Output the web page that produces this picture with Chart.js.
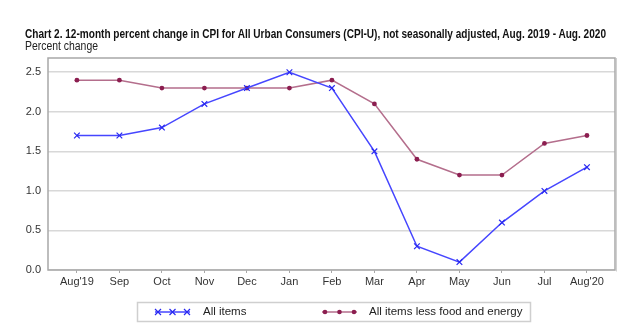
<!DOCTYPE html>
<html><head><meta charset="utf-8">
<script src="https://cdn.jsdelivr.net/npm/chart.js@4"></script>
<style>
html,body{margin:0;padding:0;background:#fff;}
#wrap{position:relative;width:643px;height:331px;overflow:hidden;}
#c{position:absolute;left:0;top:0;}
.t{position:absolute;white-space:nowrap;color:#111;font-family:"Liberation Sans Narrow","Liberation Sans",Arial,sans-serif;transform-origin:0 0;}
#title{left:25px;top:27px;font-size:12px;font-weight:bold;}
#sub{left:25px;top:39px;font-size:12px;color:#222;}
</style></head>
<body><div id="wrap">
<canvas id="c" width="643" height="331"></canvas>
<div class="t" id="title">Chart 2. 12-month percent change in CPI for All Urban Consumers (CPI-U), not seasonally adjusted, Aug. 2019 - Aug. 2020</div>
<div class="t" id="sub">Percent change</div>
</div>
<script>
const categories = ["Aug'19","Sep","Oct","Nov","Dec","Jan","Feb","Mar","Apr","May","Jun","Jul","Aug'20"];
const allItems = [1.7,1.7,1.8,2.1,2.3,2.5,2.3,1.5,0.3,0.1,0.6,1.0,1.3];
const coreItems = [2.4,2.4,2.3,2.3,2.3,2.3,2.4,2.1,1.4,1.2,1.2,1.6,1.7];
const yTicks = [0.0,0.5,1.0,1.5,2.0,2.5];
const seriesNames = ["All items","All items less food and energy"];

(function(){
  const t=document.getElementById('title');
  const w=t.getBoundingClientRect().width;
  if(w>0) t.style.transform='scaleX('+(581/w)+')';
  const s=document.getElementById('sub');
  const ws=s.getBoundingClientRect().width;
  if(ws>0) s.style.transform='scaleX('+(73/ws)+')';
})();

const blueLine='rgb(70,70,255)', blueMark='rgb(40,40,240)';
const coreLine='rgb(180,110,140)', coreMark='rgb(140,30,80)';

const frame = {
  id:'frame',
  beforeDatasetsDraw(chart){
    const a=chart.chartArea, ctx=chart.ctx;
    ctx.save();
    ctx.strokeStyle='#a8a8a8'; ctx.lineWidth=1.5;
    ctx.strokeRect(a.left,a.top,a.right-a.left,a.bottom-a.top);
    ctx.strokeStyle='#d0d0d0'; ctx.lineWidth=1;
    ctx.beginPath(); ctx.moveTo(a.right+1.5,a.top); ctx.lineTo(a.right+1.5,a.bottom+1.5); ctx.stroke();
    ctx.restore();
  },
  afterDraw(chart){
    const ctx=chart.ctx;
    ctx.save();
    ctx.strokeStyle='#cfcfcf'; ctx.lineWidth=1.5;
    ctx.strokeRect(137.5,302.5,393,19);
    ctx.font='11.5px "Liberation Sans Narrow","Liberation Sans",Arial,sans-serif';
    ctx.textBaseline='middle';
    const y=312;
    const items=[
      {x0:155,x1:190,tx:203,line:blueLine,mark:blueMark,style:'cross',label:seriesNames[0]},
      {x0:322,x1:357,tx:369,line:coreLine,mark:coreMark,style:'dot',label:seriesNames[1]}
    ];
    items.forEach(it=>{
      ctx.strokeStyle=it.line; ctx.lineWidth=1.5;
      ctx.beginPath(); ctx.moveTo(it.x0,y); ctx.lineTo(it.x1,y); ctx.stroke();
      for(let i=0;i<3;i++){
        const px=it.x0+3+i*14.5;
        if(it.style==='cross'){
          ctx.strokeStyle=it.mark; ctx.lineWidth=1.2;
          ctx.beginPath(); ctx.moveTo(px-3,y-3); ctx.lineTo(px+3,y+3); ctx.moveTo(px+3,y-3); ctx.lineTo(px-3,y+3); ctx.stroke();
        } else {
          ctx.fillStyle=it.mark; ctx.beginPath(); ctx.arc(px,y,2.3,0,Math.PI*2); ctx.fill();
        }
      }
      ctx.fillStyle='#222';
      ctx.fillText(it.label,it.tx,y);
    });
    ctx.restore();
  }
};

new Chart(document.getElementById('c'),{
  type:'line',
  data:{
    labels:categories,
    datasets:[
      {label:seriesNames[0],data:allItems.map((v,i)=>({x:i,y:v})),borderColor:blueLine,borderWidth:1.5,
       pointStyle:'crossRot',pointRadius:4,pointBorderColor:blueMark,pointBorderWidth:1.2,pointBackgroundColor:blueMark,tension:0},
      {label:seriesNames[1],data:coreItems.map((v,i)=>({x:i,y:v})),borderColor:coreLine,borderWidth:1.5,
       pointStyle:'circle',pointRadius:2.4,pointBorderWidth:0,pointBackgroundColor:coreMark,tension:0}
    ]
  },
  options:{
    responsive:false,animation:false,
    layout:{padding:{left:0,right:28,top:58,bottom:41}},
    plugins:{legend:{display:false},tooltip:{enabled:false},title:{display:false}},
    scales:{
      x:{type:'linear',min:-0.68,max:12.66,
        afterBuildTicks(s){s.ticks=categories.map((c,i)=>({value:i}));},
        afterFit(s){s.height=20;},
        ticks:{autoSkip:false,maxRotation:0,padding:2,color:'#333',font:{size:11,family:'"Liberation Sans Narrow","Liberation Sans",Arial,sans-serif'},
          callback:(v)=>categories[v]},
        grid:{drawOnChartArea:false,drawTicks:true,tickLength:3,color:'#a8a8a8',lineWidth:1},
        border:{display:false}
      },
      y:{min:0,max:2.68,
        afterBuildTicks(s){s.ticks=yTicks.map(v=>({value:v}));},
        afterFit(s){s.width=48;},
        ticks:{padding:7,color:'#333',font:{size:11,family:'"Liberation Sans",Arial,sans-serif'},callback:(v)=>v.toFixed(1)},
        grid:{color:'#d8d8d8',lineWidth:1.5,drawTicks:false},
        border:{display:false}
      }
    }
  },
  plugins:[frame]
});
</script>
</body></html>
